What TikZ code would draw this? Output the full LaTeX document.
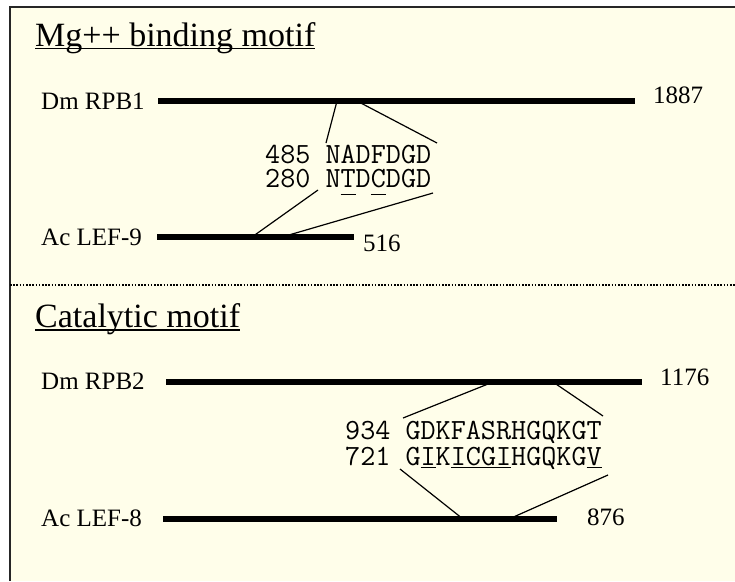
\documentclass[tikz,border=0pt]{standalone}
\usepackage{fontspec}
\setmainfont{Liberation Serif}
\definecolor{paper}{HTML}{FFFEEA}
% underline a piece of text at a given depth below the baseline
\newcommand{\ulat}[2]{\setbox0\hbox{#2}\rlap{\rule[-#1]{\wd0}{1.2pt}}\box0}
% two aligned sequence lines, the baseline of the first one being the box's baseline
\newcommand{\seqpair}[3]{\vtop{\baselineskip=#1\lineskiplimit=-30pt\lineskip=0pt\hbox{#2}\hbox{#3}}}
\tikzset{
  ttl/.style={inner sep=0pt, anchor=base west, font=\fontsize{34}{40}\selectfont},
  lbl/.style={inner sep=0pt, anchor=base west, font=\fontsize{25}{30}\selectfont},
  seq/.style={inner sep=0pt, anchor=base west, font=\ttfamily\fontsize{29.3}{34}\selectfont},
  bar/.style={line width=5.5pt},
  link/.style={line width=1.2pt},
}
\begin{document}
\begin{tikzpicture}[x=1pt,y=-1pt]
\useasboundingbox (0,0) rectangle (735,581);
\fill[white] (0,0) rectangle (735,581);
\fill[paper] (10,7) rectangle (735,581);
\draw[line width=1.5pt, black!85] (10,581) -- (10,7) -- (735,7);
\draw[line width=1.6pt, dash pattern=on 1.6pt off 1.6pt] (10,285) -- (735,285);

% ---- Mg++ binding motif ----
\node[ttl] (t1) at (35,46) {\ulat{3pt}{Mg++ binding motif}};

\node[lbl] (rpb1) at (41,109) {Dm RPB1};
\coordinate (rpb1a) at (158,101);
\coordinate (rpb1b) at (635,101);
\draw[bar] (rpb1a) -- (rpb1b);
\node[lbl] (n1887) at (653,103) {1887};

\node[seq] (s12) at (265,163)
  {\seqpair{24pt}{485 NADFDGD}{280 N\ulat{8pt}{T}D\ulat{8pt}{C}DGD}};

\node[lbl] (lef9) at (41,245) {Ac LEF-9};
\coordinate (lef9a) at (157,237);
\coordinate (lef9b) at (354,237);
\draw[bar] (lef9a) -- (lef9b);
\node[lbl] (n516) at (363,251) {516};

\coordinate (p1) at (337,101);
\coordinate (p2) at (357,101);
\coordinate (q1) at (326,143);
\coordinate (q2) at (437,143);
\coordinate (r1) at (318,190);
\coordinate (r2) at (433,193);
\coordinate (u1) at (252,237);
\coordinate (u2) at (282,237);
\draw[link] (p1) -- (q1);
\draw[link] (p2) -- (q2);
\draw[link] (r1) -- (u1);
\draw[link] (r2) -- (u2);

% ---- Catalytic motif ----
\node[ttl] (t2) at (35,327) {\ulat{3.5pt}{Catalytic motif}};

\node[lbl] (rpb2) at (41,389) {Dm RPB2};
\coordinate (rpb2a) at (166,382);
\coordinate (rpb2b) at (642,382);
\draw[bar] (rpb2a) -- (rpb2b);
\node[lbl] (n1176) at (660,385) {1176};

\node[seq] (s34) at (345,439)
  {\seqpair{26pt}{934 GDKFASRHGQKGT}{721 G\ulat{3pt}{I}K\ulat{3pt}{ICGI}HGQKG\ulat{3pt}{V}}};

\node[lbl] (lef8) at (41,526) {Ac LEF-8};
\coordinate (lef8a) at (163,519);
\coordinate (lef8b) at (557,519);
\draw[bar] (lef8a) -- (lef8b);
\node[lbl] (n876) at (587,525) {876};

\coordinate (p3) at (493,382);
\coordinate (p4) at (553,382);
\coordinate (q3) at (403,418);
\coordinate (q4) at (603,416);
\coordinate (r3) at (400,469);
\coordinate (r4) at (608,475);
\coordinate (u3) at (463,519);
\coordinate (u4) at (509,519);
\draw[link] (p3) -- (q3);
\draw[link] (p4) -- (q4);
\draw[link] (r3) -- (u3);
\draw[link] (r4) -- (u4);
\end{tikzpicture}
\end{document}
